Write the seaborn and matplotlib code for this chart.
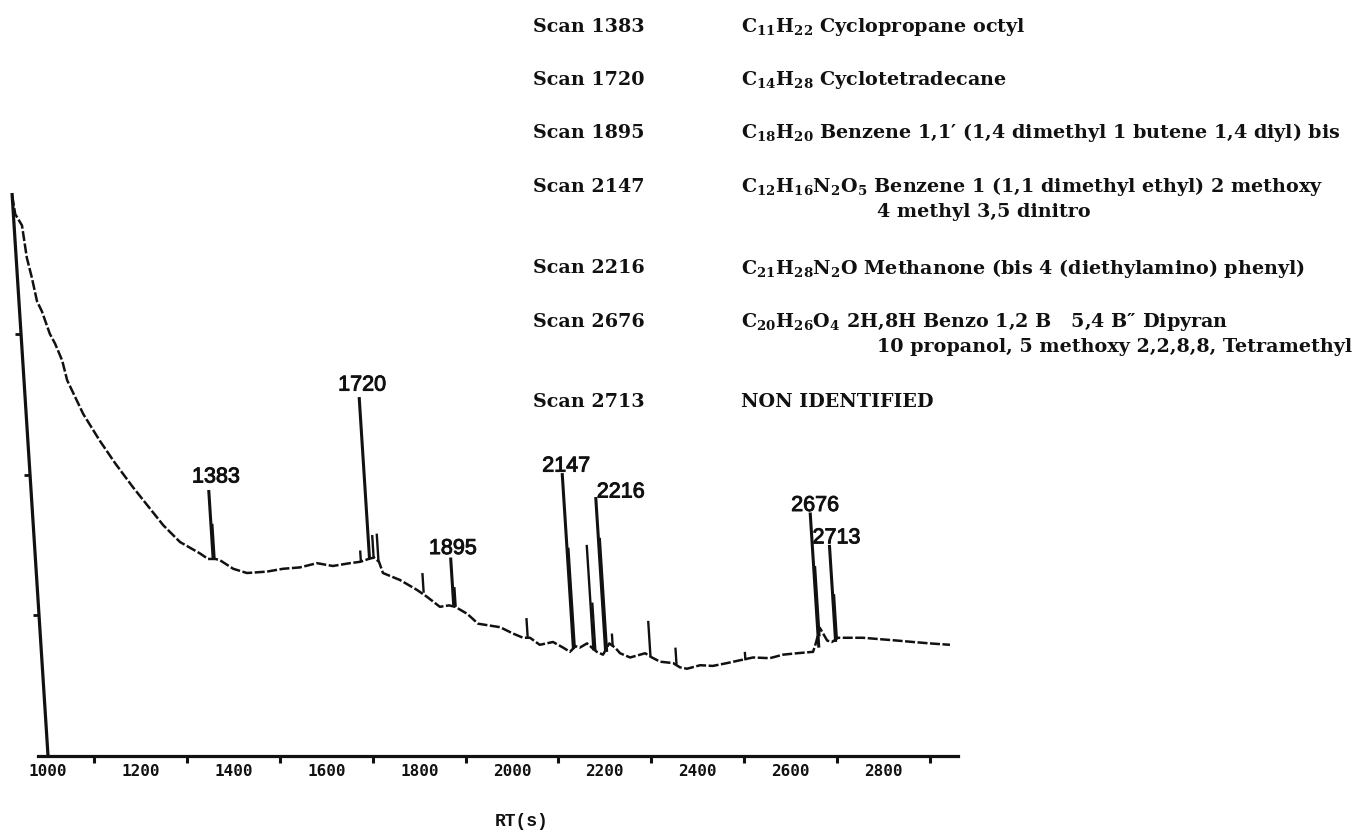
import numpy as np
import matplotlib
matplotlib.use("Agg")
import matplotlib.pyplot as plt
import matplotlib.transforms as mtransforms
import matplotlib.patheffects as pe
import seaborn as sns

# ---- chromatogram trace (retention time in s, detector signal) ----
rt = [1000, 1004, 1017, 1023, 1031, 1039, 1048, 1062, 1072, 1085, 1093, 1123,
      1155, 1185, 1220, 1240, 1280, 1314, 1355, 1372, 1388, 1398, 1425, 1454,
      1497, 1532, 1569, 1606, 1640, 1677, 1700, 1718, 1730, 1740, 1747, 1783,
      1818, 1839, 1865, 1885, 1898, 1923, 1945, 1992, 2019, 2040, 2055, 2075,
      2104, 2125, 2139, 2152, 2161, 2177, 2197, 2210, 2225, 2237, 2247, 2268,
      2290, 2301, 2315, 2332, 2360, 2374, 2389, 2418, 2445, 2476, 2504, 2533,
      2569, 2598, 2628, 2663, 2670, 2681, 2695, 2705, 2719, 2738, 2772, 2809,
      2846, 2880, 2916, 2959]
signal = [3.98, 3.85, 3.77, 3.54, 3.40, 3.23, 3.16, 3.00, 2.93, 2.81, 2.67, 2.43,
          2.24, 2.08, 1.91, 1.82, 1.64, 1.52, 1.44, 1.40, 1.40, 1.39, 1.33, 1.30,
          1.31, 1.33, 1.34, 1.37, 1.35, 1.37, 1.38, 1.40, 1.41, 1.38, 1.30, 1.25,
          1.18, 1.13, 1.06, 1.07, 1.06, 1.01, 0.94, 0.915, 0.87, 0.84, 0.84, 0.79,
          0.81, 0.77, 0.74, 0.78, 0.77, 0.80, 0.74, 0.72, 0.80, 0.77, 0.73, 0.70,
          0.72, 0.73, 0.70, 0.67, 0.66, 0.63, 0.62, 0.645, 0.64, 0.66, 0.68, 0.70,
          0.695, 0.72, 0.73, 0.74, 0.80, 0.91, 0.82, 0.81, 0.84, 0.84, 0.84, 0.83,
          0.82, 0.81, 0.80, 0.79]

# ---- identified peaks (scan number = retention time) ----
peak_scan = [1383, 1720, 1895, 2147, 2216, 2676, 2713]
peak_top = [1.89, 2.55, 1.41, 2.01, 1.84, 1.73, 1.50]
peak_base = [1.40, 1.40, 1.07, 0.76, 0.74, 0.77, 0.81]

# ---- unlabelled minor spikes and shoulders ----
minor_rt = [1386, 1701, 1729, 1739, 1832, 1899, 2050, 2150, 2190, 2194, 2219,
            2232, 2312, 2367, 2516, 2679, 2716]
minor_top = [1.65, 1.46, 1.57, 1.58, 1.30, 1.20, 0.98, 1.48, 1.50, 1.09, 1.55,
             0.87, 0.96, 0.77, 0.74, 1.35, 1.15]
minor_base = [1.40, 1.38, 1.41, 1.38, 1.16, 1.06, 0.84, 0.77, 0.75, 0.75, 0.74,
              0.78, 0.71, 0.65, 0.68, 0.85, 0.84]

# ---- x axis ----
major_ticks = [1000, 1200, 1400, 1600, 1800, 2000, 2200, 2400, 2600, 2800]
minor_ticks = [1100, 1300, 1500, 1700, 1900, 2100, 2300, 2500, 2700, 2900]
y_ticks = [1, 2, 3]

# ---- identification table ----
formulas = [r"C$_{11}$H$_{22}$", r"C$_{14}$H$_{28}$", r"C$_{18}$H$_{20}$",
            r"C$_{12}$H$_{16}$N$_{2}$O$_{5}$", r"C$_{21}$H$_{28}$N$_{2}$O",
            r"C$_{20}$H$_{26}$O$_{4}$", ""]
names = ["Cyclopropane octyl",
         "Cyclotetradecane",
         "Benzene 1,1\u2032 (1,4 dimethyl 1 butene 1,4 diyl) bis",
         "Benzene 1 (1,1 dimethyl ethyl) 2 methoxy",
         "Methanone (bis 4 (diethylamino) phenyl)",
         "2H,8H Benzo 1,2 B   5,4 B\u2033 Dipyran",
         "NON IDENTIFIED"]
continuations = ["", "", "", "4 methyl 3,5 dinitro", "",
                 "10 propanol, 5 methoxy 2,2,8,8, Tetramethyl", ""]

sns.set_theme(style="white")
plt.rcParams["font.family"] = ["DejaVu Sans"]
plt.rcParams["mathtext.fontset"] = "custom"
plt.rcParams["mathtext.rm"] = "DejaVu Serif:bold"
plt.rcParams["mathtext.bf"] = "DejaVu Serif:bold"
plt.rcParams["mathtext.it"] = "DejaVu Serif:bold"
plt.rcParams["mathtext.default"] = "rm"

W, H = 1365, 834
fig = plt.figure(figsize=(W / 100, H / 100), dpi=100)
fig.patch.set_facecolor("white")
ax = fig.add_axes([38 / W, 78 / H, 920 / W, 563 / H])
ax.set_facecolor("white")

# the recorder pen drifts left as it rises: shear the plotting frame
pen_skew = mtransforms.Affine2D().skew(np.arctan(-19.4), 0)
skewed = pen_skew + ax.transData

ink = "#111111"

sns.lineplot(x=rt, y=signal, sort=False, estimator=None, ax=ax,
             color=ink, linewidth=1.8, linestyle=(0, (4, 1.0)))
trace = ax.lines[-1]
trace.set_transform(skewed)
trace.set_clip_on(False)

pk = ax.vlines(peak_scan, peak_base, peak_top, colors=ink, linewidth=2.2)
pk.set_transform(skewed)
mn = ax.vlines(minor_rt, minor_base, minor_top, colors=ink, linewidth=1.7)
mn.set_transform(skewed)

# slanted ordinate with its ticks
ax.set_xlim(978.4, 2961)
ax.set_ylim(0, 4)
x0 = major_ticks[0]
yaxis_line, = ax.plot([x0, x0], [0, ax.get_ylim()[1]], color=ink,
                      linewidth=2.3, solid_capstyle="butt")
yaxis_line.set_transform(skewed)
yaxis_line.set_clip_on(False)
yt = ax.hlines(y_ticks, x0 - 12, x0, colors=ink, linewidth=2.0)
yt.set_transform(skewed)
yt.set_clip_on(False)

# peak labels
label_offsets = {1383: (7, 13), 1720: (3, 12), 1895: (2, 9), 2147: (4, 7),
                 2216: (25, 5), 2676: (5, 7), 2713: (7, 7)}
for scan, top in zip(peak_scan, peak_top):
    ax.annotate(str(scan), xy=(scan, top), xycoords=skewed,
                xytext=label_offsets[scan], textcoords="offset pixels",
                ha="center", va="center", fontsize=15.5,
                family=["Liberation Sans"], color=ink,
                path_effects=[pe.withStroke(linewidth=0.7, foreground=ink)])

# abscissa
for s in ["left", "top", "right"]:
    ax.spines[s].set_visible(False)
ax.spines["bottom"].set_linewidth(2.3)
ax.spines["bottom"].set_color(ink)
ax.set_yticks([])
ax.set_xticks(major_ticks)
ax.set_xticks(minor_ticks, minor=True)
ax.set_xticklabels([str(t) for t in major_ticks])
ax.tick_params(axis="x", which="major", direction="out", length=5, width=1.6,
               color=ink, pad=1, labelsize=11.5, labelcolor=ink)
ax.tick_params(axis="x", which="minor", direction="out", length=5, width=2.2,
               color=ink, bottom=True)
for lab in ax.get_xticklabels():
    lab.set_family(["DejaVu Sans Mono"])
    lab.set_fontweight("bold")

ax.set_xlabel("RT(s)", fontsize=13, family=["Liberation Mono"],
              fontweight="bold", color=ink)
ax.xaxis.set_label_coords((522 - 38) / 920, -(822 - 756) / 563)
ax.xaxis.label.set_va("center")

# identification table
row_y = [27, 80, 133, 187, 268, 322, 402]
serif = ["DejaVu Serif", "DejaVu Sans"]
for scan, formula, name, cont, y in zip(peak_scan, formulas, names,
                                        continuations, row_y):
    fig.text(533 / W, 1 - y / H, f"Scan {scan}", ha="left", va="center",
             fontsize=13.8, family=serif, fontweight="bold", color=ink)
    body = f"{formula} {name}" if formula else name
    fig.text(741 / W, 1 - y / H, body, ha="left", va="center",
             fontsize=13.8, family=serif, fontweight="bold", color=ink)
    if cont:
        fig.text(877 / W, 1 - (y + 25) / H, cont, ha="left", va="center",
                 fontsize=13.8, family=serif, fontweight="bold", color=ink)

fig.savefig("out.png", dpi=100, facecolor="white")
